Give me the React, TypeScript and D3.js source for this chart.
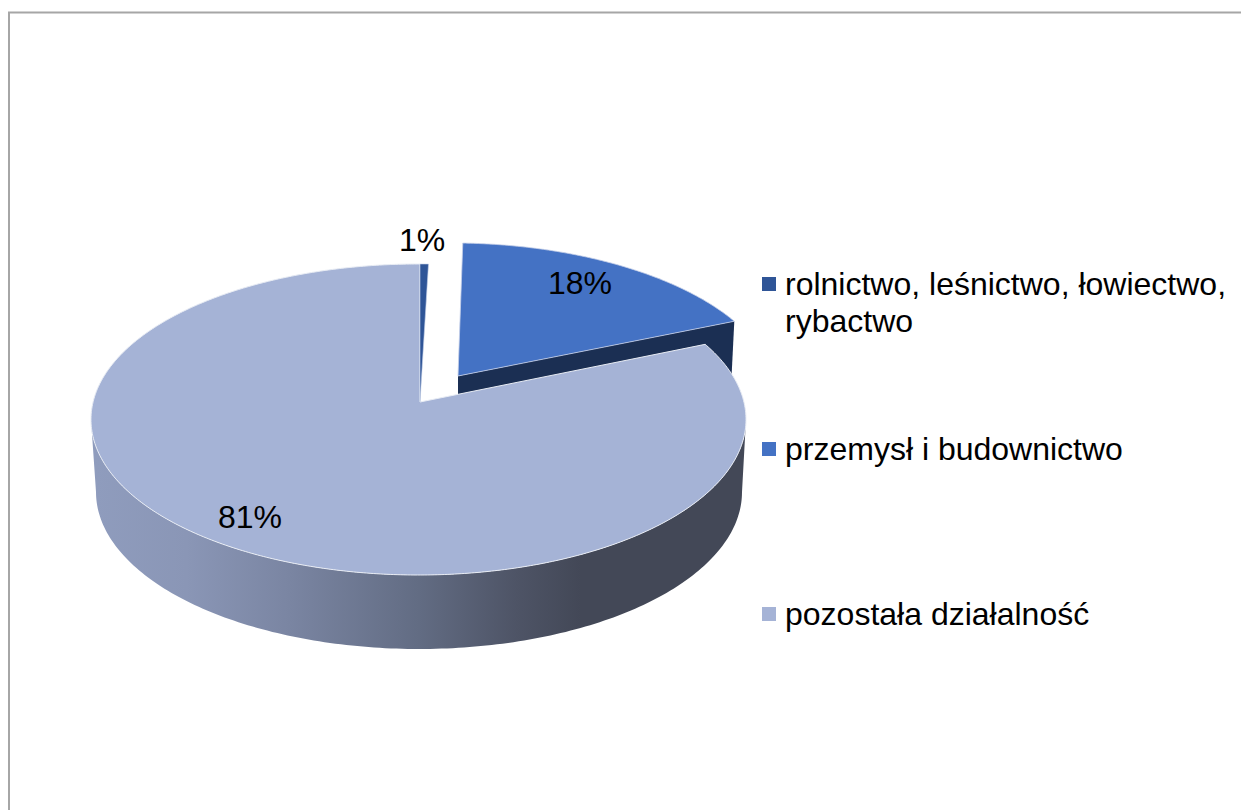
import React from "react";
import * as d3 from "d3";

const categories = ["rolnictwo, leśnictwo, łowiectwo,|rybactwo", "przemysł i budownictwo", "pozostała działalność"];
const values = [0.5, 18.49, 81.01];
const labels = ["1%", "18%", "81%"];
const topColors = ["#2f5597", "#4472c4", "#a5b3d6"];

const W = 1241, H = 810;
const cx = 418.5, cy = 419.5, rx = 327.5, ry = 155.5;
const apex: [number, number] = [420, 402];
const low = { cx: 419, cy: 492, rx: 323, ry: 157 };
const dirY = 167; // foreshortening of the pie's angular direction

// projected point on the top rim for a pie angle: ray from apex to ellipse
function rim(theta: number): [number, number] {
  const dx = Math.sin(theta) * rx, dy = -Math.cos(theta) * dirY;
  const ox = apex[0] - cx, oy = apex[1] - cy;
  const a = (dx * dx) / (rx * rx) + (dy * dy) / (ry * ry);
  const b = 2 * ((ox * dx) / (rx * rx) + (oy * dy) / (ry * ry));
  const c = (ox * ox) / (rx * rx) + (oy * oy) / (ry * ry) - 1;
  const t = (-b + Math.sqrt(b * b - 4 * a * c)) / (2 * a);
  return [apex[0] + dx * t, apex[1] + dy * t];
}
// exploded slice: perspective-shrunk copy moved out from the apex
function explode(p: [number, number]): [number, number] {
  const x = p[0] - apex[0], y = p[1] - apex[1];
  return [458 + 0.974 * x + 0.0253 * y, 376 + 0.003 * x + 0.964 * y];
}

const line = d3.line();
const arcs = d3.pie<number>().sort(null)(values);

function sliceRim(a0: number, a1: number, f = (p: [number, number]) => p) {
  const n = Math.max(2, Math.ceil((a1 - a0) / 0.01));
  return d3.range(n + 1).map((i) => f(rim(a0 + ((a1 - a0) * i) / n)));
}
const topPath = (i: number, f = (p: [number, number]) => p) =>
  line([f(apex), ...sliceRim(arcs[i].startAngle, arcs[i].endAngle, f)])! + "Z";

// side wall of the cake
const wallTopFull = d3.range(0, 181).map((d) => {
  const t = (d * Math.PI) / 180;
  return [cx - rx * Math.cos(t), cy + ry * Math.sin(t)] as [number, number];
});
const wallLow = d3.range(180, -1, -1).map((d) => {
  const t = (d * Math.PI) / 180;
  return [low.cx - low.rx * Math.cos(t), low.cy + low.ry * Math.sin(t)] as [number, number];
});
const wallPath = line([...wallTopFull, ...wallLow])! + "Z";

// dark cut faces of the exploded slice
const e0 = explode(apex);
const e1 = explode(rim(arcs[1].endAngle));
const cutPath = line([e0, e1, [e1[0] - 3, e1[1] + 60], [e0[0], e0[1] + 60]])! + "Z";

const legendY = [284, 449, 614];
const labelPos: [number, number][] = [[422, 240], [580, 283], [250, 517]];

export default function App() {
  return (
    <svg width={W} height={H} style={{ position: "absolute", left: 0, top: 0 }} fontFamily="'Liberation Sans', Arial, sans-serif">
      <defs>
        <linearGradient id="wall" gradientUnits="userSpaceOnUse" x1={96} x2={742} y1={0} y2={0}>
          <stop offset="0" stopColor="#8f9cbd" />
          <stop offset="0.14" stopColor="#8a96b6" />
          <stop offset="0.3" stopColor="#7a85a2" />
          <stop offset="0.5" stopColor="#626c83" />
          <stop offset="0.65" stopColor="#4e5466" />
          <stop offset="0.75" stopColor="#434857" />
          <stop offset="1" stopColor="#434857" />
        </linearGradient>
      </defs>
      <rect width={W} height={H} fill="#fff" />
      <path d={`M9 810V12.5H1241`} fill="none" stroke="#a6a6a6" strokeWidth={2} />

      <path d={cutPath} fill="#1b2f53" />
      <path d={topPath(1, explode)} fill={topColors[1]} stroke="#c5d0e8" strokeWidth={1} strokeOpacity={0.8} />
      <path d={wallPath} fill="url(#wall)" />
      <path d={topPath(2)} fill={topColors[2]} stroke="#e8ecf4" strokeWidth={1} />
      <path d={topPath(0)} fill={topColors[0]} stroke="#c5d0e8" strokeWidth={0.6} />

      <g fontSize={32} fill="#000" textAnchor="middle">
        {labels.map((t, i) => (
          <text key={t} x={labelPos[i][0]} y={labelPos[i][1] + 11}>{t}</text>
        ))}
      </g>

      {categories.map((c, i) => (
        <g key={c}>
          <rect x={762} y={legendY[i] - 7} width={14} height={14} fill={topColors[i]} />
          <text fontSize={32} fill="#000" x={785} y={legendY[i] + 11}>
            {c.split("|").map((s, j) => (
              <tspan key={s} x={785} dy={j ? 37 : 0}>{s}</tspan>
            ))}
          </text>
        </g>
      ))}
    </svg>
  );
}
